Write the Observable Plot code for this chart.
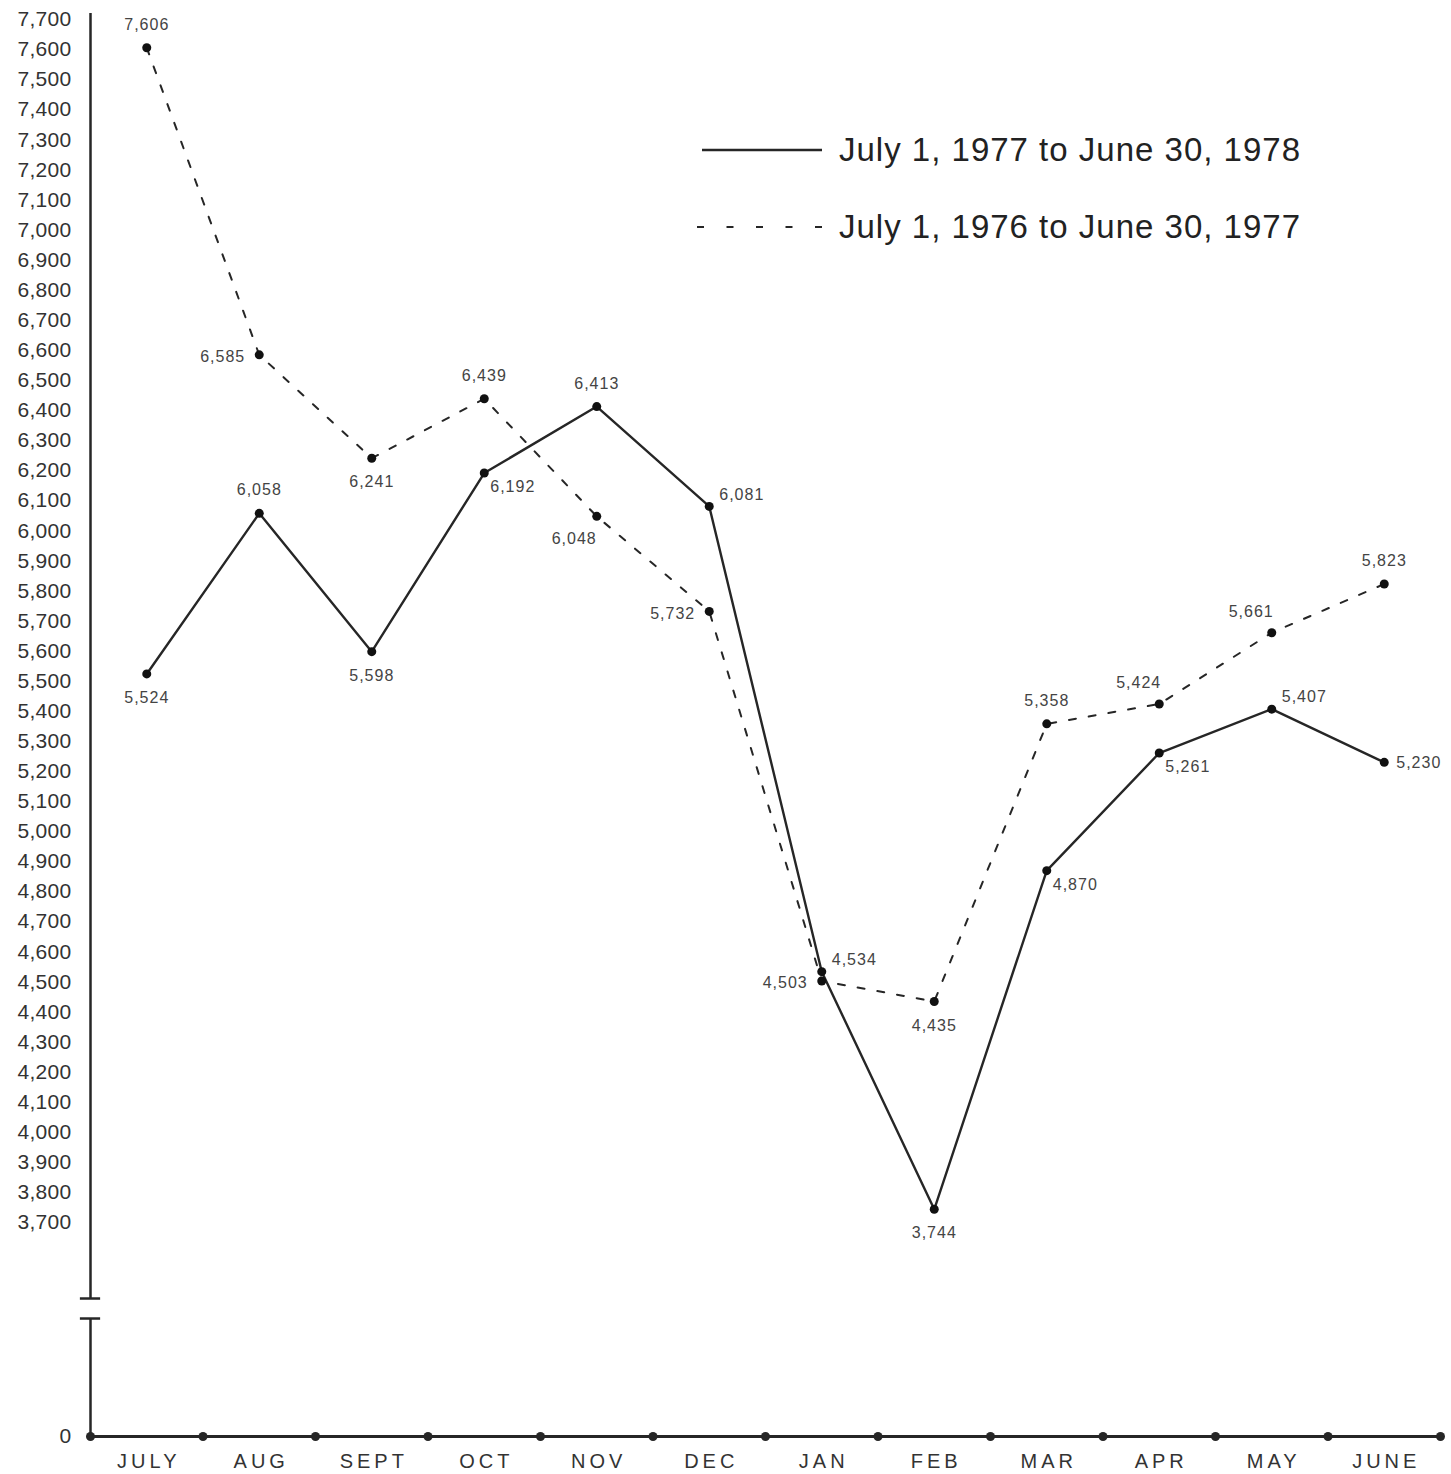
<!DOCTYPE html>
<html>
<head>
<meta charset="utf-8">
<script src="https://cdn.jsdelivr.net/npm/d3@7"></script>
<script src="https://cdn.jsdelivr.net/npm/@observablehq/plot@0.6"></script>
<style>
  body { margin: 0; background: #fff; }
  #wrap { position: relative; width: 1451px; height: 1474px; font-family: "Liberation Sans", Arial, sans-serif; }
  #wrap > svg { position: absolute; left: 0; top: 0; }
  text[aria-label="month-labels"] { letter-spacing: 4px; }
  text[aria-label="value-labels"] { letter-spacing: 1px; }
  text[aria-label="y-labels"] { letter-spacing: 0.3px; }
  .legend { position: absolute; left: 690px; top: 130px; color: #222; font-size: 33px; letter-spacing: 1px; }
  .legend .row { display: flex; align-items: center; height: 40px; margin-bottom: 37px; }
  .legend svg { margin-right: 14px; }
</style>
</head>
<body>
<div id="wrap"></div>
<script>
// ---- data ----
const months = ["JULY", "AUG", "SEPT", "OCT", "NOV", "DEC", "JAN", "FEB", "MAR", "APR", "MAY", "JUNE"];
const seriesNames = ["July 1, 1977 to June 30, 1978", "July 1, 1976 to June 30, 1977"];
const values1978 = [5524, 6058, 5598, 6192, 6413, 6081, 4534, 3744, 4870, 5261, 5407, 5230];
const values1977 = [7606, 6585, 6241, 6439, 6048, 5732, 4503, 4435, 5358, 5424, 5661, 5823];
// label placement relative to each point (compass directions)
const labelPos1978 = ["s", "n", "s", "se", "n", "ne", "ne", "s", "se", "se", "ne", "e"];
const labelPos1977 = ["n", "w", "s", "n", "sw", "w", "w", "s", "n", "nw", "nw", "n"];
const yTicks = [0].concat(d3.range(3700, 7701, 100));
const breakStart = 3700;        // scale is compressed below this value (axis break)
const axisBreak = [2040, 2386]; // gap in the value axis between 0 and 3,700

// ---- build ----
const rows = [];
months.forEach((m, i) => {
  rows.push({series: seriesNames[0], i, month: m, value: values1978[i], pos: labelPos1978[i]});
  rows.push({series: seriesNames[1], i, month: m, value: values1977[i], pos: labelPos1977[i]});
});
const fmt = d3.format(",");
// broken-axis transform: values below 3,700 are squeezed into a short segment
const squeeze = 0.1923;
const brk = v => v >= breakStart ? v : breakStart - (breakStart - v) * squeeze;

const offsets = {
  n:  {dx: 0,   dy: -23, anchor: "middle"},
  s:  {dx: 0,   dy: 24,  anchor: "middle"},
  e:  {dx: 12,  dy: 1,   anchor: "start"},
  w:  {dx: -14, dy: 2,   anchor: "end"},
  ne: {dx: 10,  dy: -12, anchor: "start"},
  se: {dx: 6,   dy: 14,  anchor: "start"},
  nw: {dx: 2,   dy: -21, anchor: "end"},
  sw: {dx: 0,   dy: 23,  anchor: "end"}
};
const ink = "#262626";
const xc = d => d.i + 0.5;

const labelMarks = Object.keys(offsets).map(k => Plot.text(rows.filter(d => d.pos === k), {
  x: xc, y: "value", text: d => fmt(d.value),
  dx: offsets[k].dx, dy: offsets[k].dy, textAnchor: offsets[k].anchor,
  fontSize: 16, fill: "#444", ariaLabel: () => "value-labels"
}));

const chart = Plot.plot({
  width: 1451,
  height: 1474,
  marginLeft: 90, marginRight: 11, marginTop: 19, marginBottom: 38,
  style: {fontFamily: "'Liberation Sans', Arial, sans-serif", background: "#fff"},
  x: {domain: [0, 12], axis: null},
  y: {type: "linear", transform: brk, domain: [brk(0), 7700], axis: null},
  marks: [
    // value axis with break
    Plot.ruleX([0], {y1: 0, y2: axisBreak[0], stroke: ink, strokeWidth: 2.5}),
    Plot.ruleX([0], {y1: axisBreak[1], y2: 7720, stroke: ink, strokeWidth: 2.5}),
    Plot.ruleY(axisBreak, {x1: -0.09, x2: 0.09, stroke: ink, strokeWidth: 2.5}),
    // month axis
    Plot.ruleY([0], {x1: 0, x2: 12, stroke: ink, strokeWidth: 3}),
    Plot.dot(d3.range(0, 13), {x: d => d, y: 0, r: 4.5, fill: ink, stroke: "none"}),
    // tick labels
    Plot.text(yTicks, {x: 0, y: d => d, text: d => fmt(d), dx: -19, textAnchor: "end", fontSize: 21, fill: "#333", ariaLabel: () => "y-labels"}),
    Plot.text(months, {x: (d, i) => i + 0.5, y: 0, text: d => d, dx: 2, dy: 25, fontSize: 20, fill: "#333", ariaLabel: () => "month-labels"}),
    // series
    Plot.line(rows.filter(d => d.series === seriesNames[1]), {x: xc, y: "value", stroke: ink, strokeWidth: 2, strokeDasharray: "7,13"}),
    Plot.line(rows.filter(d => d.series === seriesNames[0]), {x: xc, y: "value", stroke: ink, strokeWidth: 2.4}),
    Plot.dot(rows, {x: xc, y: "value", r: 4.5, fill: "#111", stroke: "none"}),
    ...labelMarks
  ]
});

const wrap = document.getElementById("wrap");
wrap.appendChild(chart);

// legend
const legend = document.createElement("div");
legend.className = "legend";
seriesNames.forEach((name, k) => {
  const row = document.createElement("div");
  row.className = "row";
  const dash = k === 0 ? "" : "stroke-dasharray='7,22.5'";
  row.innerHTML = `<svg width="135" height="10"><line x1="${k === 0 ? 12 : 7}" x2="132" y1="5" y2="5" stroke="${ink}" stroke-width="${k === 0 ? 2.4 : 2}" ${dash}/></svg><span>${name}</span>`;
  legend.appendChild(row);
});
wrap.appendChild(legend);
</script>
</body>
</html>
